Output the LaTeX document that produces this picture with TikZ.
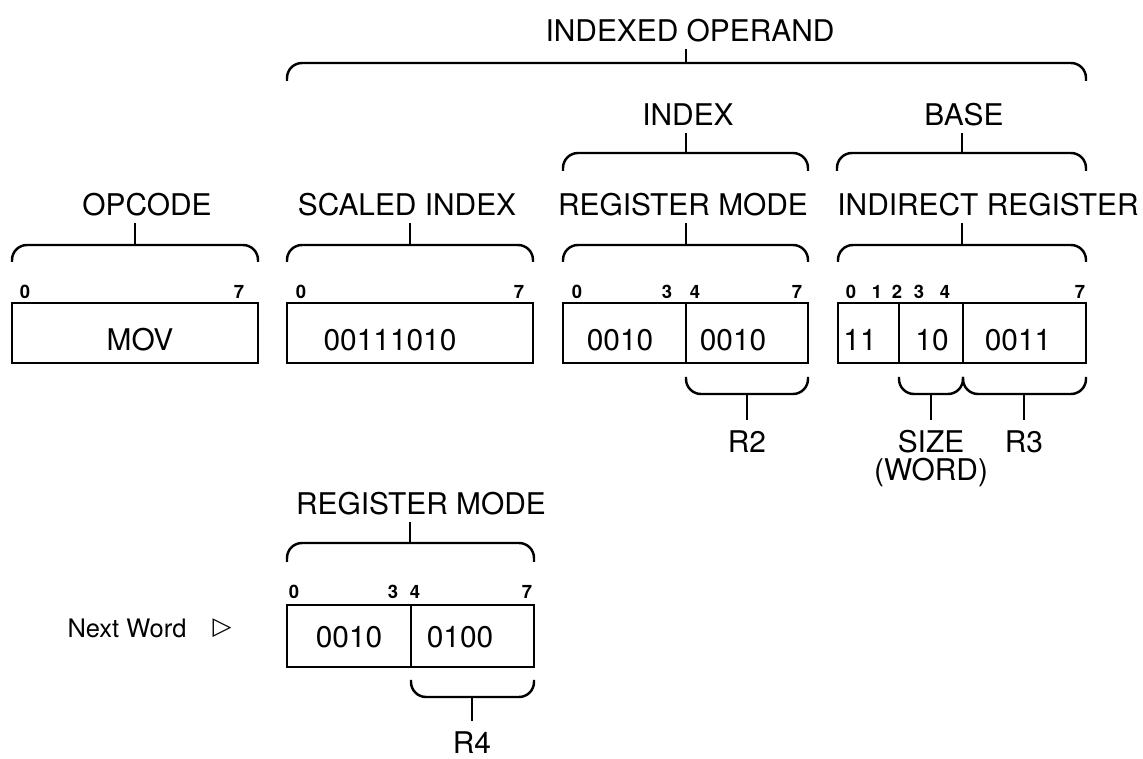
\documentclass[tikz,border=0pt]{standalone}
\usepackage{fontspec}
\setmainfont{TeX Gyre Heros}
\newfontfamily\dejavufont{DejaVu Sans Bold}
\begin{document}
\begin{tikzpicture}[x=0.02cm,y=-0.02cm,
  lbl/.style={font=\fontsize{17}{20}\selectfont, inner sep=0pt, outer sep=4pt},
  sub/.style={font=\fontsize{17}{15.5}\selectfont, inner sep=0pt, outer sep=6pt, align=center, anchor=north},
  bit/.style={font=\bfseries\fontsize{10.5}{12}\selectfont, inner sep=0pt},
  val/.style={font=\fontsize{17}{20}\selectfont, inner sep=0pt},
  field/.style={line width=1.4pt},
  divider/.style={line width=1.1pt},
  brace/.style={line width=1.4pt, rounded corners=0.3cm},
  stem/.style={line width=1.2pt}]

\useasboundingbox (0,0) rectangle (1143,759);

% ---------- top level groups ----------
\node[lbl] (io) at (690,31) {INDEXED OPERAND};
\coordinate (iob) at (686,63);
\draw[brace] (287,81) |- (iob) -| (1086,81);
\draw[stem] (io.south -| iob) -- (iob);

\node[lbl] (idx) at (688,115) {INDEX};
\coordinate (idxb) at (686,153);
\draw[brace] (563,171) |- (idxb) -| (808,171);
\draw[stem] (idx.south -| idxb) -- (idxb);

\node[lbl] (base) at (964,115) {BASE};
\coordinate (baseb) at (962,153);
\draw[brace] (837,171) |- (baseb) -| (1086,171);
\draw[stem] (base.south -| baseb) -- (baseb);

% ---------- row 2 labels ----------
\node[lbl] (opc) at (147,205) {OPCODE};
\coordinate (opcb) at (135,245);
\draw[brace] (12,262) |- (opcb) -| (258,262);
\draw[stem] (opc.south -| opcb) -- (opcb);

\node[lbl] (sci) at (407,205) {SCALED INDEX};
\coordinate (scib) at (410,245);
\draw[brace] (287,262) |- (scib) -| (533,262);
\draw[stem] (sci.south -| scib) -- (scib);

\node[lbl] (rm) at (683,205) {REGISTER MODE};
\coordinate (rmb) at (686,245);
\draw[brace] (563,262) |- (rmb) -| (808,262);
\draw[stem] (rm.south -| rmb) -- (rmb);

\node[lbl] (ir) at (988,205) {INDIRECT REGISTER};
\coordinate (irb) at (962,245);
\draw[brace] (838,262) |- (irb) -| (1086,262);
\draw[stem] (ir.south -| irb) -- (irb);

% ---------- bit numbers ----------
\node[bit] (b1a) at (25,292) {0};
\node[bit] (b1b) at (239,292) {7};
\node[bit] (b2a) at (301,292) {0};
\node[bit] (b2b) at (519,292) {7};
\node[bit] (b3a) at (577,292) {0};
\node[bit] (b3b) at (667,292) {3};
\node[bit] (b3c) at (695,292) {4};
\node[bit] (b3d) at (797,292) {7};
\node[bit] (b4a) at (851,292) {0};
\node[bit] (b4b) at (877,292) {1};
\node[bit] (b4c) at (897,292) {2};
\node[bit] (b4d) at (919,292) {3};
\node[bit] (b4e) at (945,292) {4};
\node[bit] (b4f) at (1080,292) {7};

% ---------- fields ----------
\draw[field] (12,303) rectangle (258,363);
\draw[field] (287,303) rectangle (533,363);
\draw[field] (563,303) rectangle (808,363);
\draw[divider] (686,303) -- (686,363);
\draw[field] (838,303) rectangle (1086,363);
\draw[divider] (899,303) -- (899,363);
\draw[divider] (963,303) -- (963,363);

\node[val] (v1) at (140,340) {MOV};
\node[val] (v2) at (390,340) {00111010};
\node[val] (v3) at (620,340) {0010};
\node[val] (v4) at (733,340) {0010};
\node[val] (v5) at (860,340) {11};
\node[val] (v6) at (932,340) {10};
\node[val] (v7) at (1018,340) {0011};

% ---------- under braces ----------
\coordinate (r2b) at (747,394);
\draw[brace] (686,377) |- (r2b) -| (808,377);
\node[sub] (r2) at (747,420) {R2};
\draw[stem] (r2b) -- (r2.north);

\coordinate (szb) at (931,394);
\draw[brace] (899,377) |- (szb) -| (963,377);
\node[sub] (sz) at (931,420) {SIZE\\(WORD)};
\draw[stem] (szb) -- (sz.north);

\coordinate (r3b) at (1024,394);
\draw[brace] (963,377) |- (r3b) -| (1086,377);
\node[sub] (r3) at (1024,420) {R3};
\draw[stem] (r3b) -- (r3.north);

% ---------- next word ----------
\node[lbl] (rm2) at (421,504) {REGISTER MODE};
\coordinate (rm2b) at (410,543);
\draw[brace] (287,562) |- (rm2b) -| (534,562);
\draw[stem] (rm2.south -| rm2b) -- (rm2b);

\node[bit] (c1) at (294,592) {0};
\node[bit] (c2) at (393,592) {3};
\node[bit] (c3) at (415,592) {4};
\node[bit] (c4) at (527,592) {7};

\draw[field] (287,605) rectangle (534,667);
\draw[divider] (411,605) -- (411,667);
\node[val] (w1) at (349,637) {0010};
\node[val] (w2) at (460,637) {0100};

\coordinate (r4b) at (472,697);
\draw[brace] (411,680) |- (r4b) -| (534,680);
\node[sub] (r4) at (472,721) {R4};
\draw[stem] (r4b) -- (r4.north);

\node[font=\fontsize{14.5}{16}\selectfont, inner sep=0pt] (nw) at (127,628) {Next Word};
\node[inner sep=0pt, font=\fontsize{14}{15}\selectfont\dejavufont] (tri) at (222,628) {▷};
\end{tikzpicture}
\end{document}
